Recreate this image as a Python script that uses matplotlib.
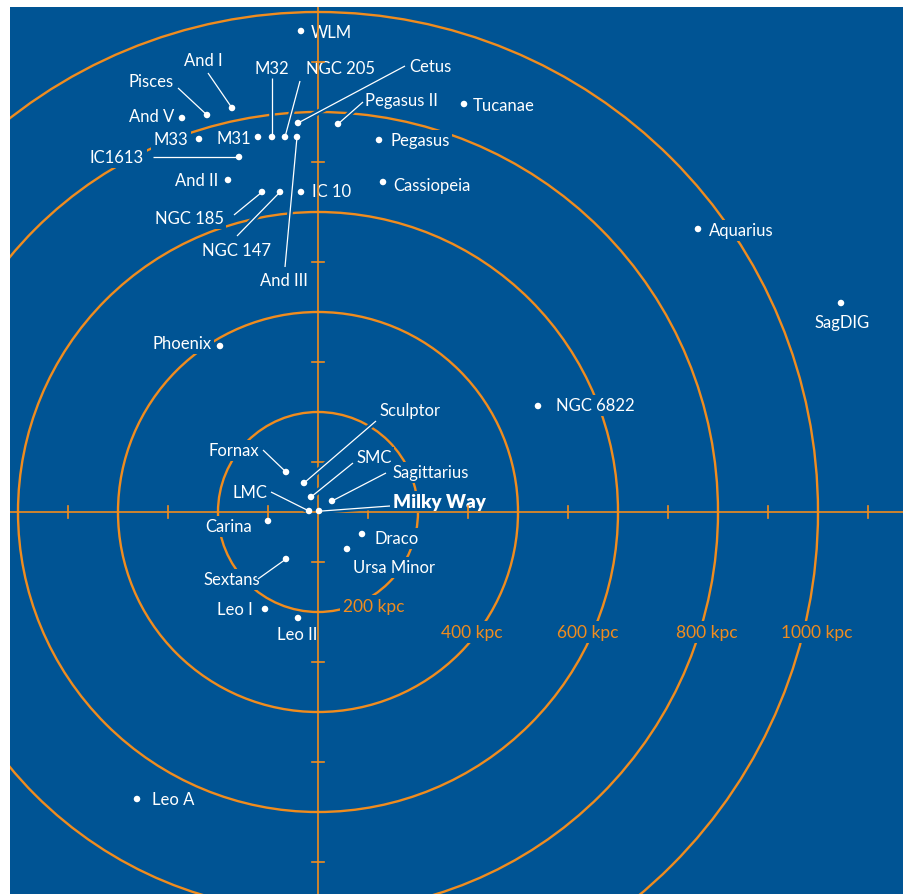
import numpy as np
import matplotlib
matplotlib.use("Agg")
import matplotlib.pyplot as plt
from matplotlib.patches import Circle
import matplotlib.patheffects as pe

BLUE = "#005494"
ORANGE = "#f08c1e"

plt.rcParams['font.family'] = ['Lato', 'DejaVu Sans']

# galaxy positions in kpc (Milky Way at the origin)
names = ["WLM", "And I", "Pisces", "And V", "M33", "M31", "M32", "NGC 205",
         "And III", "Cetus", "Pegasus II", "Tucanae", "Pegasus", "Cassiopeia",
         "IC1613", "And II", "NGC 185", "NGC 147", "IC 10", "Aquarius",
         "SagDIG", "Phoenix", "NGC 6822", "Sculptor", "Fornax", "SMC",
         "Sagittarius", "LMC", "Milky Way", "Carina", "Draco", "Ursa Minor",
         "Sextans", "Leo I", "Leo II", "Leo A"]
gx = [-34, -172, -222, -272, -238, -120, -92, -66,
      -42, -40, 40, 292, 122, 130,
      -158, -180, -112, -76, -34, 760,
      1046, -196, 440, -28, -64, -14,
      28, -18, 2, -100, 88, 58,
      -64, -106, -40, -362]
gy = [962, 808, 794, 788, 746, 750, 750, 750,
      750, 778, 776, 816, 744, 660,
      710, 664, 640, 640, 640, 566,
      418, 332, 212, 58, 80, 30,
      22, 2, 2, -18, -44, -74,
      -94, -194, -212, -574]

ring_radii = [200, 400, 600, 800, 1000]
ring_labels = ["200 kpc", "400 kpc", "600 kpc", "800 kpc", "1000 kpc"]
axis_ticks = [-700, -500, -300, -100, 100, 300, 500, 700, 900, 1100]

# label placement: text centre (kpc) and optional leader start
labels = {
    "WLM": (26, 960, None), "And I": (-230, 904, (-220, 878)),
    "Pisces": (-334, 862, (-280, 848)), "And V": (-332, 792, None),
    "M33": (-294, 746, None), "M31": (-168, 748, None),
    "M32": (-92, 888, (-92, 868)), "NGC 205": (46, 888, (-36, 862)),
    "And III": (-68, 464, (-66, 490)), "Cetus": (224, 892, (174, 892)),
    "Pegasus II": (166, 824, (90, 820)), "Tucanae": (372, 814, None),
    "Pegasus": (204, 744, None), "Cassiopeia": (228, 654, None),
    "IC1613": (-402, 710, (-330, 710)), "And II": (-242, 664, None),
    "NGC 185": (-258, 588, (-168, 594)), "NGC 147": (-162, 524, (-162, 552)),
    "IC 10": (28, 642, None), "Aquarius": (846, 564, None),
    "SagDIG": (1048, 380, None), "Phoenix": (-272, 338, None),
    "NGC 6822": (554, 214, None), "Sculptor": (184, 204, (116, 182)),
    "Fornax": (-168, 124, (-110, 124)), "SMC": (112, 110, (70, 98)),
    "Sagittarius": (226, 80, (136, 78)), "LMC": (-136, 40, (-94, 40)),
    "Milky Way": (242, 20, (144, 12)), "Carina": (-178, -28, None),
    "Draco": (158, -52, None), "Ursa Minor": (152, -110, None),
    "Sextans": (-172, -134, (-120, -134)), "Leo I": (-166, -194, None),
    "Leo II": (-42, -244, None), "Leo A": (-290, -574, None),
}
ring_label_x = [50, 308, 540, 778, 998]
ring_label_y = [-188, -240, -240, -240, -240]

fig = plt.figure(figsize=(9.04, 8.95), dpi=100)
ax = fig.add_axes([10 / 904, 0, 894 / 904, 887 / 895])
ax.set_facecolor(BLUE)
ax.set_xlim(-616, 1172)
ax.set_ylim(-764, 1010)
ax.set_aspect('equal')
for s in ax.spines.values():
    s.set_visible(False)
ax.set_xticks([])
ax.set_yticks([])

for r in ring_radii:
    ax.add_patch(Circle((0, 0), r, fill=False, ec=ORANGE, lw=1.7, zorder=1))

ax.axhline(0, color=ORANGE, lw=1.2, zorder=4)
ax.axvline(0, color=ORANGE, lw=1.2, zorder=4)
for t in axis_ticks:
    ax.plot([t, t], [-12, 12], color=ORANGE, lw=1.2, zorder=4)
    ax.plot([-12, 12], [t, t], color=ORANGE, lw=1.2, zorder=4)

box = dict(boxstyle='square,pad=0.15', fc=BLUE, ec='none')

# ring labels
for i, lab in enumerate(ring_labels):
    ax.text(ring_label_x[i], ring_label_y[i], lab, color=ORANGE, fontsize=12.5,
            ha='left' if i == 0 else 'center', va='center', bbox=box, zorder=3)

stroke = [pe.withStroke(linewidth=4, foreground=BLUE)]
for n, x, y in zip(names, gx, gy):
    lx, ly, lead = labels[n]
    if lead is not None:
        end = (8, 2) if n == "Milky Way" else (x, y)
        ax.plot([lead[0], end[0]], [lead[1], end[1]], color='white', lw=0.9,
                zorder=5, path_effects=stroke, solid_capstyle='butt')
    if n == "Milky Way":
        ax.text(lx, ly, n, color='white', fontsize=13.5, fontweight='heavy',
                ha='center', va='center', bbox=box, zorder=3)
    else:
        ax.text(lx, ly, n, color='white', fontsize=12,
                ha='center', va='center', bbox=box, zorder=3)

ax.scatter(gx, gy, s=22, color='white', edgecolors='none', zorder=6)

fig.savefig("out.png", dpi=100, facecolor='white')
